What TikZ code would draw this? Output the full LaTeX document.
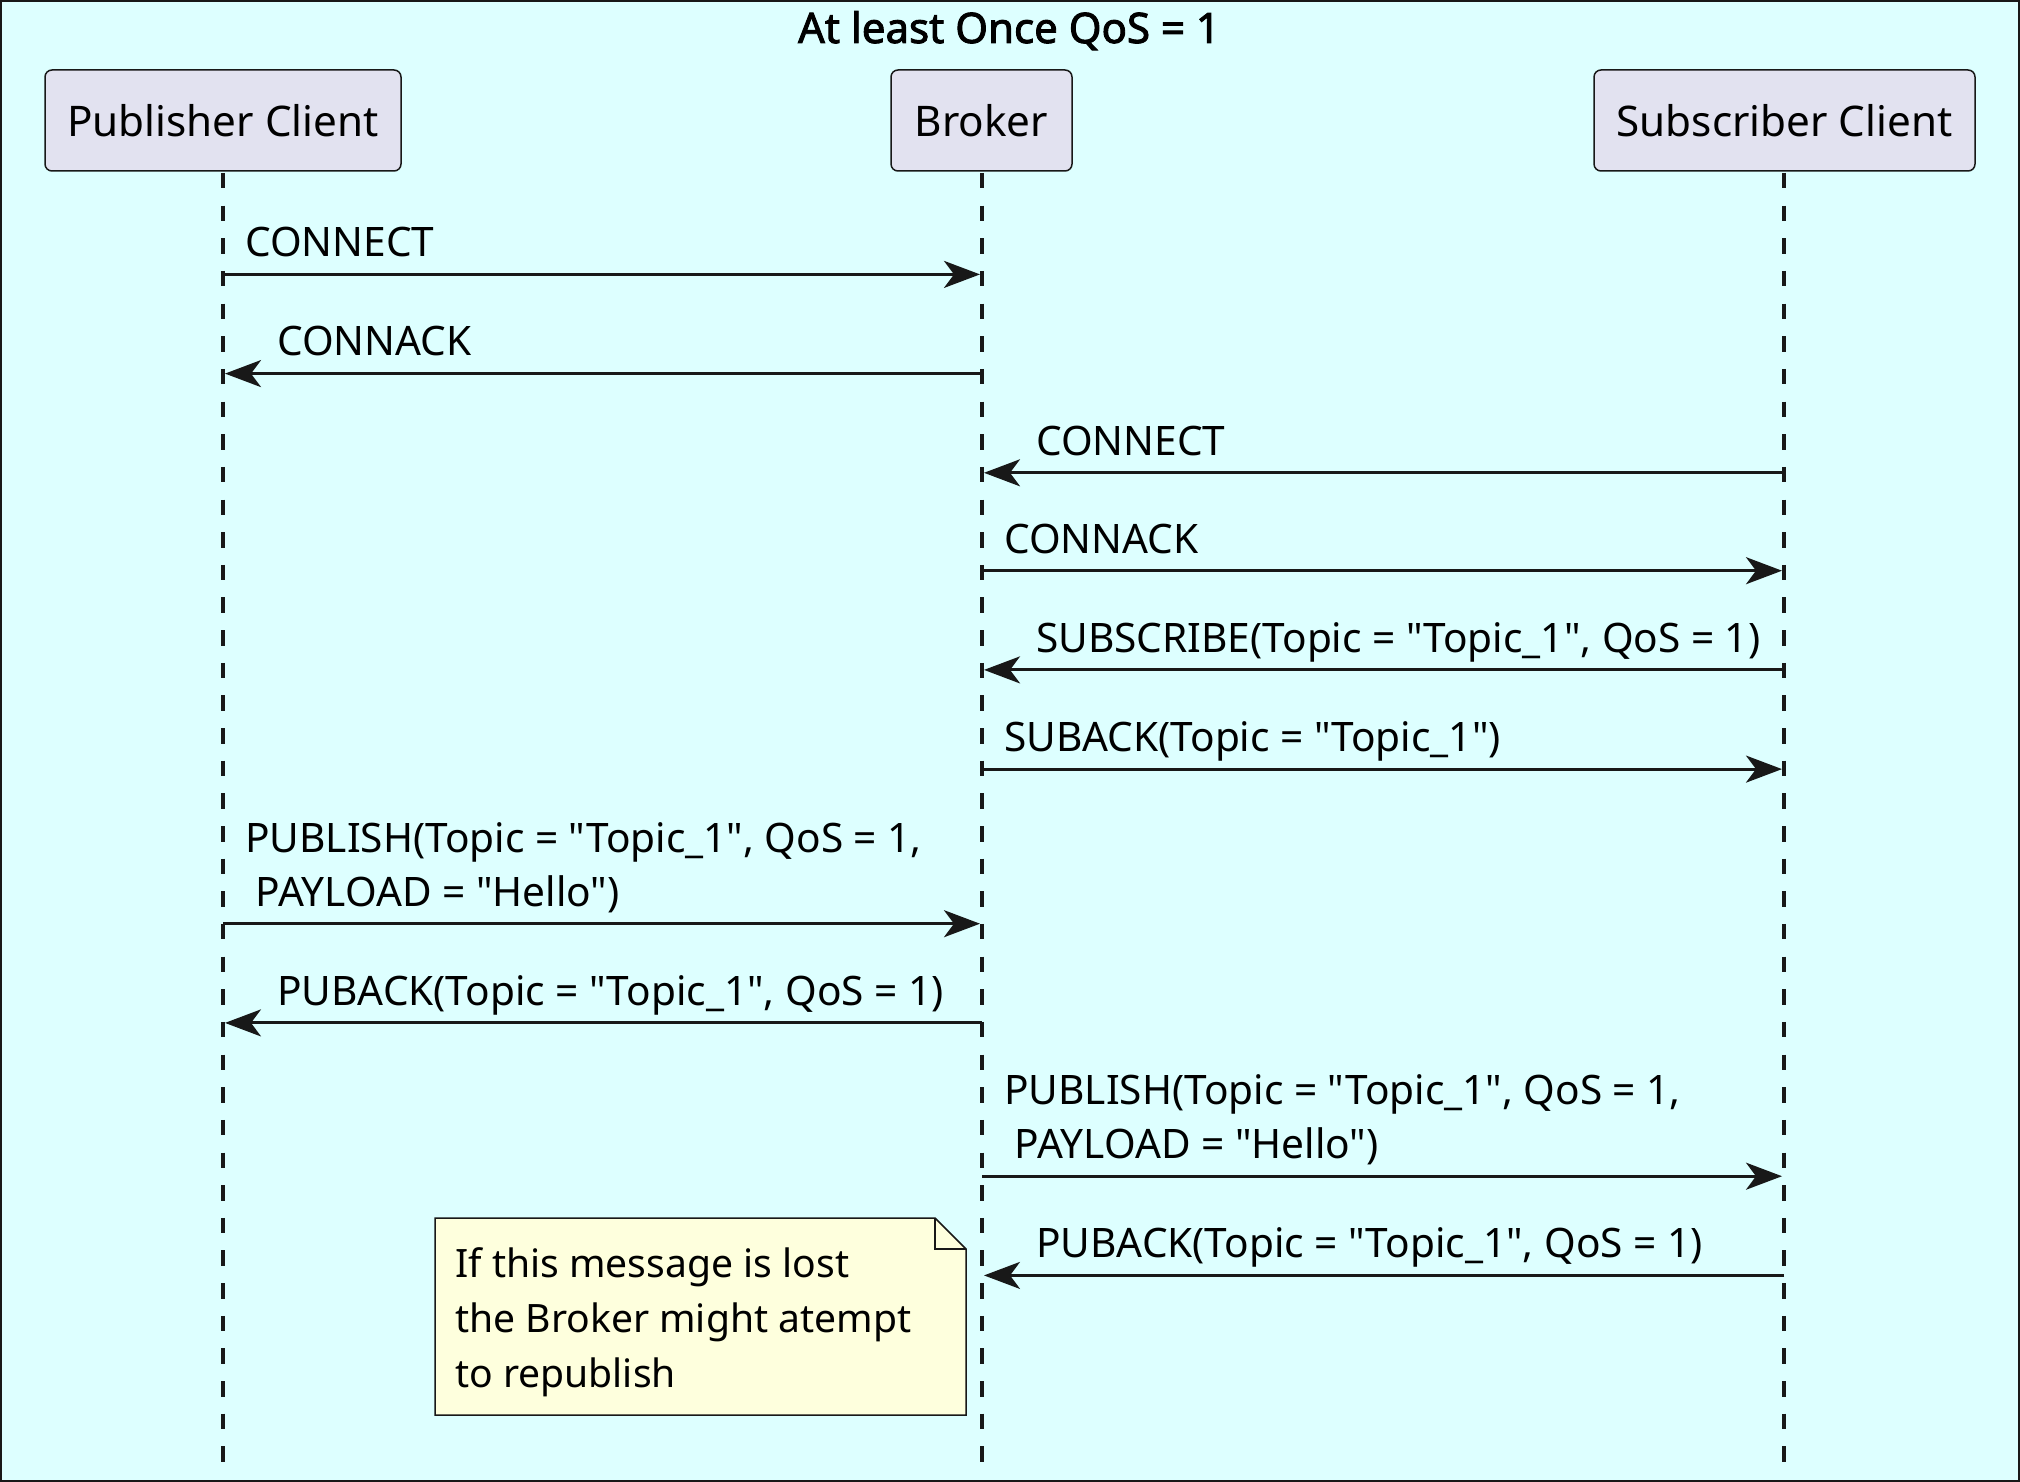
\documentclass[tikz,border=0pt]{standalone}
\usepackage{fontspec}
\setmainfont{Noto Sans}[Ligatures=TeXOff, AutoFakeBold=2.2]
\usetikzlibrary{arrows.meta}
\definecolor{bgc}{HTML}{DDFFFF}
\definecolor{partfill}{HTML}{E2E2F0}
\definecolor{notefill}{HTML}{FEFFDD}
\definecolor{linec}{HTML}{181818}
\begin{document}
\begin{tikzpicture}[x=1pt,y=-1pt,
  part/.style={draw=linec, line width=1.5pt, fill=partfill, rounded corners=7pt, minimum height=101pt, inner sep=0pt, font=\fontsize{42.2}{50}\selectfont},
  lifeline/.style={draw=linec, line width=4.5pt, dash pattern=on 15.5pt off 17.15pt},
  msg/.style={draw=linec, line width=3pt, -{Stealth[length=36pt,width=27pt,inset=10pt]}},
  lbl/.style={anchor=base west, inner sep=0pt, font=\fontsize{40.6}{54}\selectfont, align=left},
  notebox/.style={draw=linec, line width=1.5pt, fill=notefill},
]
\useasboundingbox (0,0) rectangle (2020,1482);
\draw[linec, line width=2pt, fill=bgc] (1,1) rectangle (2019,1481);
\node[font=\bfseries\fontsize{42}{48}\selectfont, anchor=base, inner sep=0pt] (title) at (1009,43) {At least Once QoS = 1};

\node[part, minimum width=356pt] (pub) at (223,120.5) {Publisher Client};
\node[part, minimum width=181pt] (brk) at (981.5,120.5) {Broker};
\node[part, minimum width=381pt] (sub) at (1784.5,120.5) {Subscriber Client};

\coordinate (pubend) at (223,1462);
\coordinate (brkend) at (982,1462);
\coordinate (subend) at (1784,1462);
\draw[lifeline] (223,173) -- (pubend);
\draw[lifeline] (982,173) -- (brkend);
\draw[lifeline] (1784,173) -- (subend);

% message anchor points (tips touch the lifeline edge)
\coordinate (p1) at (223,274.4);  \coordinate (b1) at (980,274.4);
\coordinate (p2) at (225,373.6);  \coordinate (b2) at (982,373.6);
\coordinate (b3) at (984,472.8);  \coordinate (s3) at (1784,472.8);
\coordinate (b4) at (982,570.7);  \coordinate (s4) at (1782,570.7);
\coordinate (b5) at (984,669.9);  \coordinate (s5) at (1784,669.9);
\coordinate (b6) at (982,769.1);  \coordinate (s6) at (1782,769.1);
\coordinate (p7) at (223,923.7);  \coordinate (b7) at (980,923.7);
\coordinate (p8) at (225,1022.9); \coordinate (b8) at (982,1022.9);
\coordinate (b9) at (982,1176.2); \coordinate (s9) at (1782,1176.2);
\coordinate (b10) at (984,1275.4); \coordinate (s10) at (1784,1275.4);

\draw[msg] (p1) -- (b1);
\draw[msg] (b2) -- (p2);
\draw[msg] (s3) -- (b3);
\draw[msg] (b4) -- (s4);
\draw[msg] (s5) -- (b5);
\draw[msg] (b6) -- (s6);
\draw[msg] (p7) -- (b7);
\draw[msg] (b8) -- (p8);
\draw[msg] (b9) -- (s9);
\draw[msg] (s10) -- (b10);

\node[lbl] (l1) at (245,256) {CONNECT};
\node[lbl] (l2) at (277,355) {CONNACK};
\node[lbl] (l3) at (1036,455) {CONNECT};
\node[lbl] (l4) at (1004,553) {CONNACK};
\node[lbl] (l5) at (1036,652) {SUBSCRIBE(Topic = "Topic\_1", QoS = 1)};
\node[lbl] (l6) at (1004,751) {SUBACK(Topic = "Topic\_1")};
\node[lbl] (l7) at (245,906) {PUBLISH(Topic = "Topic\_1", QoS = 1,\\\ PAYLOAD = "Hello")};
\node[lbl] (l8) at (277,1005) {PUBACK(Topic = "Topic\_1", QoS = 1)};
\node[lbl] (l9) at (1004,1158) {PUBLISH(Topic = "Topic\_1", QoS = 1,\\\ PAYLOAD = "Hello")};
\node[lbl] (l10) at (1036,1257) {PUBACK(Topic = "Topic\_1", QoS = 1)};

\draw[notebox] (435,1218) -- (935,1218) -- (966,1249) -- (966,1415) -- (435,1415) -- cycle;
\draw[linec, line width=1.5pt] (935,1218) -- (935,1249) -- (966,1249);
\node[lbl, font=\fontsize{39.1}{55}\selectfont] (note) at (455,1387) {If this message is lost\\the Broker might atempt\\to republish};
\end{tikzpicture}
\end{document}
